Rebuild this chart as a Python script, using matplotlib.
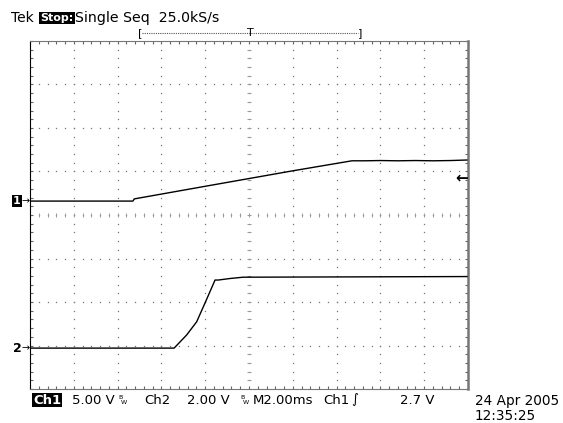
import numpy as np
import matplotlib
matplotlib.use('Agg')
import matplotlib.pyplot as plt

# --- figure geometry (pixels of the reference screenshot) ---
W, H = 563, 423
L, R, T, B = 30, 468, 41, 389

# --- scope settings shown on screen ---
ms_per_div = 2.0
ch1_volts_per_div = 5.0
ch2_volts_per_div = 2.0
trig_level = 2.7          # V on Ch1
ch1_gnd_div = 4.32        # ground marker height, divisions from the bottom
ch2_gnd_div = 0.94

# --- waveforms (time in ms from left edge, volts) ---
ch1_t = [0.0, 4.70, 4.76, 8.0, 12.0, 14.70, 15.3, 16.0, 16.8, 17.6, 18.4, 19.2, 19.95]
ch1_v = [0.0, 0.0, 0.25, 1.70, 3.48, 4.63, 4.63, 4.66, 4.63, 4.66, 4.63, 4.66, 4.72]

ch2_t = [0.0, 6.58, 7.15, 7.61, 7.99, 8.25, 8.45, 8.60, 9.13, 9.73, 19.95]
ch2_v = [0.0, 0.0, 0.60, 1.21, 2.07, 2.67, 3.13, 3.13, 3.20, 3.26, 3.29]


def fx(px):
    return px / W


def fy(py):
    return 1 - py / H


fig = plt.figure(figsize=(W / 100, H / 100), dpi=100)
fig.patch.set_facecolor('white')
rect = [fx(L), fy(B), (R - L) / W, (B - T) / H]

# graticule, in divisions
g = fig.add_axes(rect)
g.set_xlim(0, 10)
g.set_ylim(0, 8)
g.set_xticks(np.arange(0, 10.01, 0.2))
g.set_yticks(np.arange(0, 8.01, 0.2))
g.tick_params(direction='in', length=2.5, width=0.8, color='#666666',
              top=True, right=True, labelbottom=False, labelleft=False)
for side in ['top', 'right', 'bottom']:
    g.spines[side].set_color('#777777')
g.spines['left'].set_color('black')
g.spines['right'].set_linewidth(1.8)

dots = np.arange(0, 10.01, 0.2)
yy = np.arange(0, 8.01, 0.2)
for k in range(1, 10):
    g.plot(np.full_like(yy, k), yy, ls='none', marker='s', ms=0.9,
           mew=0, color='#777777')
for k in range(1, 8):
    g.plot(dots, np.full_like(dots, k), ls='none', marker='s', ms=0.9,
           mew=0, color='#777777')
# centre cross ticks
g.plot(np.full_like(yy, 5), yy, ls='none', marker='_', ms=2.2, mew=0.7, color='#999999')
g.plot(dots, np.full_like(dots, 4), ls='none', marker='|', ms=2.2, mew=0.7, color='#999999')

# channel 1
a1 = fig.add_axes(rect)
a1.set_xlim(0, 10 * ms_per_div)
a1.set_ylim(-ch1_gnd_div * ch1_volts_per_div, (8 - ch1_gnd_div) * ch1_volts_per_div)
a1.axis('off')
a1.plot(ch1_t, ch1_v, color='black', lw=1.0)

# channel 2
a2 = fig.add_axes(rect)
a2.set_xlim(0, 10 * ms_per_div)
a2.set_ylim(-ch2_gnd_div * ch2_volts_per_div, (8 - ch2_gnd_div) * ch2_volts_per_div)
a2.axis('off')
a2.plot(ch2_t, ch2_v, color='black', lw=1.0)

font = 'DejaVu Sans'
fs = 9.5

# header line
fig.text(fx(11), fy(18), 'Tek', fontsize=10, family=font, va='center')
fig.text(fx(40), fy(18), 'Stop:', fontsize=8, family=font, va='center', color='white',
         fontweight='bold', bbox=dict(boxstyle='square,pad=0.12', fc='black', ec='none'))
fig.text(fx(75), fy(18), 'Single Seq  25.0kS/s', fontsize=10.2, family=font, va='center')

# record position bracket
fig.add_artist(plt.Line2D([fx(142), fx(358)], [fy(33), fy(33)], color='#555555',
                          lw=0.8, ls=(0, (1, 1))))
fig.text(fx(140), fy(33), '[', fontsize=8, family=font, ha='center', va='center')
fig.text(fx(360), fy(33), ']', fontsize=8, family=font, ha='center', va='center')
fig.text(fx(250), fy(33), 'T', fontsize=8, family=font, ha='center', va='center')

# ground markers
gnd1_py = B - ch1_gnd_div * (B - T) / 8
gnd2_py = B - ch2_gnd_div * (B - T) / 8
fig.text(fx(13), fy(gnd1_py), '1', fontsize=8, family=font, va='center', color='white',
         fontweight='bold', bbox=dict(boxstyle='square,pad=0.12', fc='black', ec='none'))
fig.text(fx(21), fy(gnd1_py), '→', fontsize=7, family=font, va='center')
fig.text(fx(13), fy(gnd2_py), '2', fontsize=9, family=font, va='center', fontweight='bold')
fig.text(fx(21), fy(gnd2_py), '→', fontsize=7, family=font, va='center')

# trigger level arrow
trig_py = gnd1_py - trig_level / ch1_volts_per_div * (B - T) / 8
fig.text(fx(468), fy(trig_py), '←', fontsize=11, family=font, va='center', ha='right',
         fontweight='bold')

# status line
ys = 400
fig.text(fx(33), fy(ys), 'Ch1', fontsize=fs, family=font, va='center', color='white',
         fontweight='bold', bbox=dict(boxstyle='square,pad=0.05', fc='black', ec='none'))
fig.text(fx(72), fy(ys), '5.00 V', fontsize=fs, family=font, va='center')
fig.text(fx(118), fy(ys - 3), 'B', fontsize=4.5, family=font, va='center')
fig.text(fx(121), fy(ys + 2), 'W', fontsize=4.5, family=font, va='center')
fig.text(fx(144), fy(ys), 'Ch2', fontsize=fs, family=font, va='center')
fig.text(fx(187), fy(ys), '2.00 V', fontsize=fs, family=font, va='center')
fig.text(fx(240), fy(ys - 3), 'B', fontsize=4.5, family=font, va='center')
fig.text(fx(243), fy(ys + 2), 'W', fontsize=4.5, family=font, va='center')
fig.text(fx(253), fy(ys), 'M2.00ms', fontsize=fs, family=font, va='center')
fig.text(fx(323), fy(ys), 'Ch1', fontsize=fs, family=font, va='center')
fig.text(fx(351), fy(ys), '∫', fontsize=fs, family=font, va='center')
fig.text(fx(434), fy(ys), '2.7 V', fontsize=fs, family=font, va='center', ha='right')
fig.text(fx(475), fy(401), '24 Apr 2005', fontsize=9.8, family=font, va='center')
fig.text(fx(475), fy(416), '12:35:25', fontsize=9.8, family=font, va='center')

fig.savefig('out.png', dpi=100)
